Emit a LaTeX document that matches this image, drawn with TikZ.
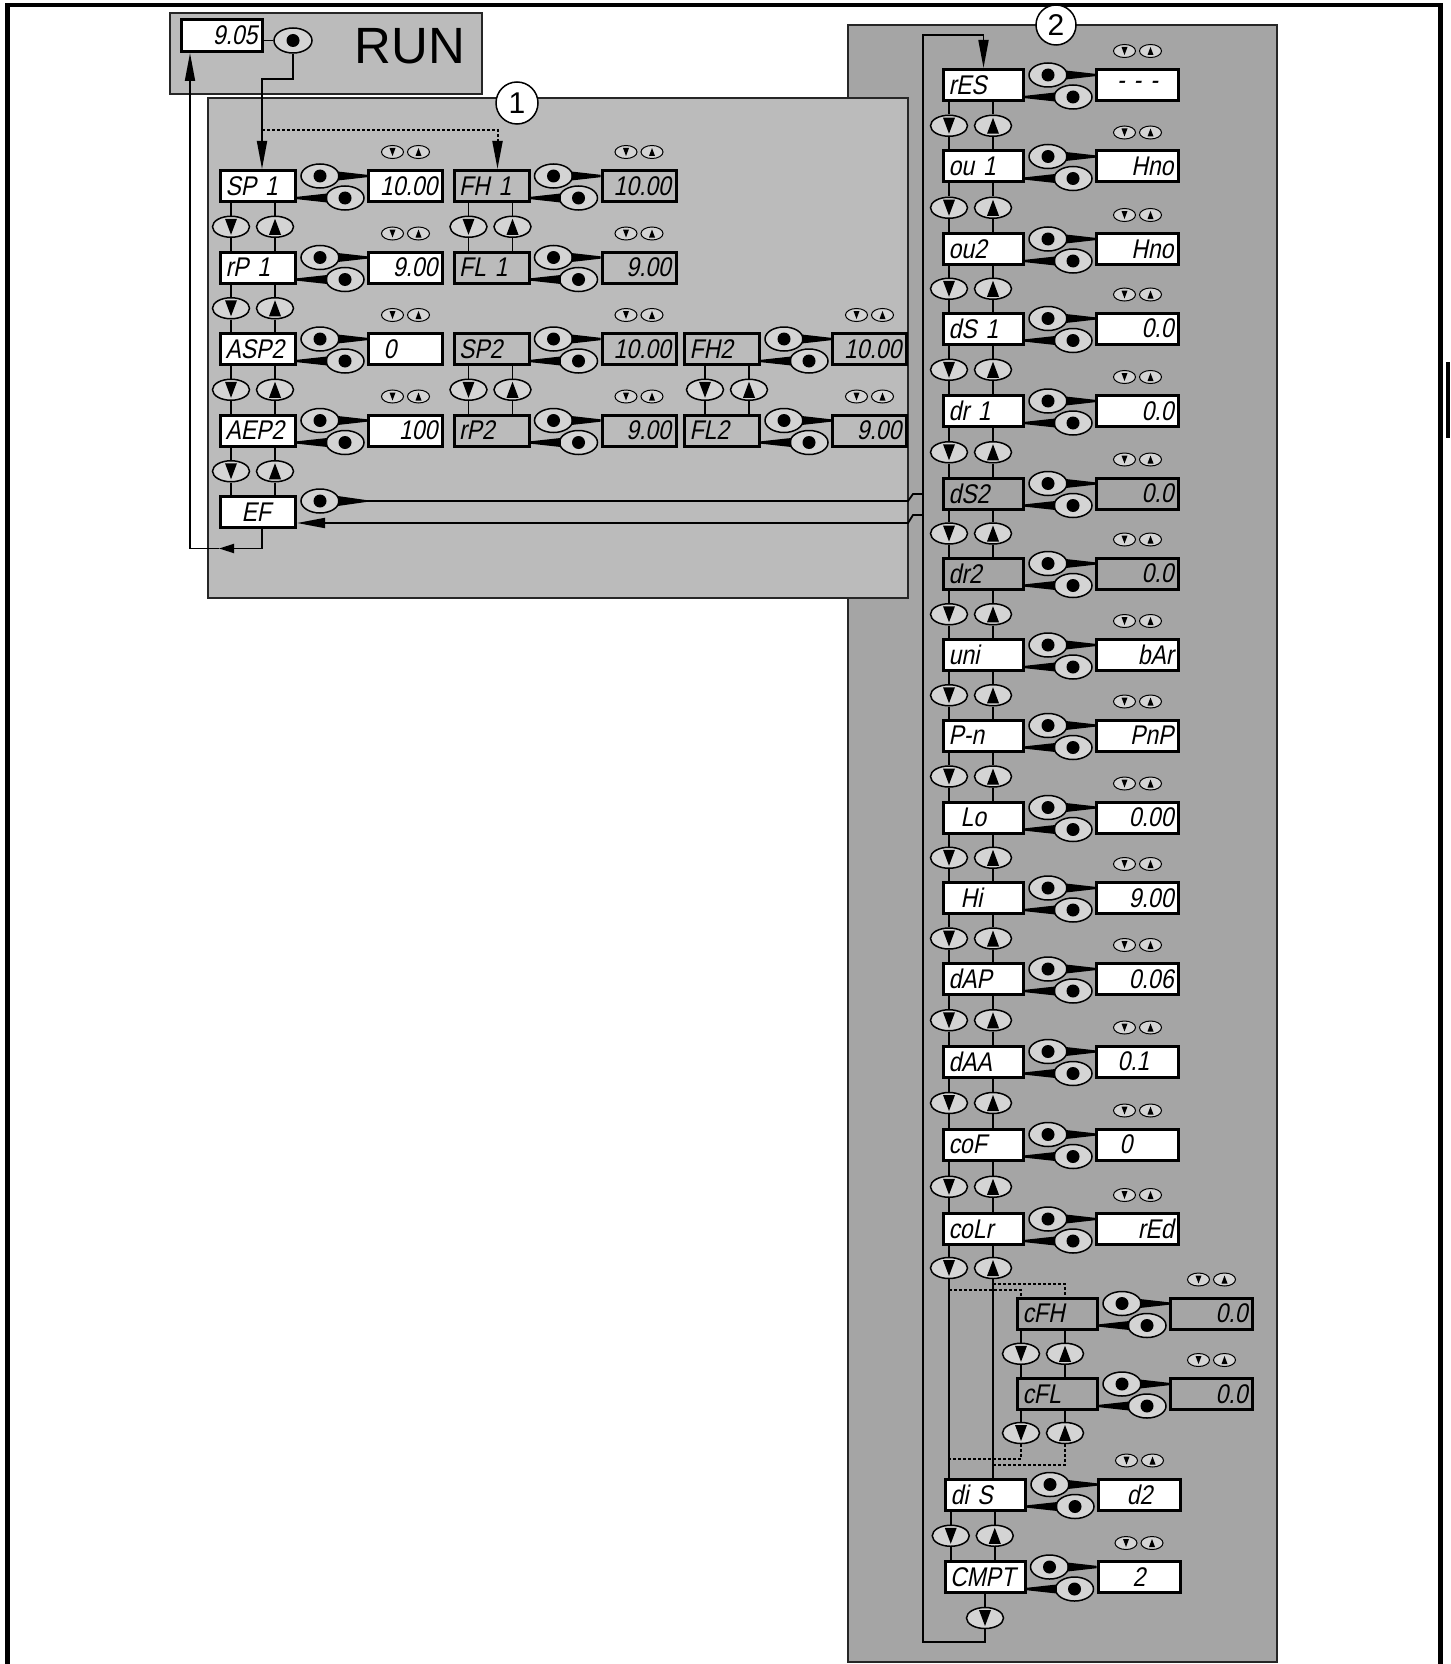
\documentclass[tikz,border=0pt]{standalone}
\usepackage{fontspec}
\setmainfont{Liberation Sans}
\newfontfamily\segfont{Liberation Sans}[FakeSlant=0.2,FakeStretch=0.85]
\usepackage{tikz}
\usetikzlibrary{arrows.meta,positioning,calc,shapes.geometric}
\definecolor{grayone}{HTML}{BBBBBB}
\definecolor{graytwo}{HTML}{A5A5A5}
\definecolor{keyfill}{HTML}{D4D4D4}

% one menu line: name, position, label, value, box style, value alignment
\newcommand\menuline[6]{%
  \node[lbl,#5] (#1) at (#2) {#3};
  \node[val,#5,right=70pt of #1,align=#6] (#1v) {#4};
  \node[okkey] (#1a) at ($(#1.east)+(23,-10)$) {};
  \node[okkey] (#1b) at ($(#1.east)+(48,12)$) {};
  \fill ($(#1a.east)+(-2,-4.5)$) -- ($(#1a.center -| #1v.west)+(0,-1.2)$)
    -- ($(#1a.center -| #1v.west)+(0,1.2)$) -- ($(#1a.east)+(-2,4.5)$) -- cycle;
  \fill ($(#1b.west)+(2,-4.5)$) -- ($(#1b.center -| #1.east)+(0,-1.2)$)
    -- ($(#1b.center -| #1.east)+(0,1.2)$) -- ($(#1b.west)+(2,4.5)$) -- cycle;
  \node[inddn] (#1d) at ($(#1v.center)+(-13,-34)$) {};
  \node[indup] (#1u) at ($(#1v.center)+(13,-34)$) {};
}
% down and up keys between two menu lines
\newcommand\updown[3]{%
  \node[keydn] (#1n) at ($(#1.south west)!0.5!(#2.north west)+(#3,0)$) {};
  \node[keyup] (#1p) at ($(#1n)+(44,0)$) {};
  \draw[wire] (#1.south -| #1n) -- (#1n.north) (#1n.south) -- (#2.north -| #1n)
    (#1.south -| #1p) -- (#1p.north) (#1p.south) -- (#2.north -| #1p);
}

\begin{document}
\begin{tikzpicture}[x=1pt,y=-1pt,
  every node/.style={inner sep=0pt},
  grp/.style={draw=black!85,line width=1.5pt},
  wire/.style={line width=1.8pt},
  arr/.style={wire,-{Triangle[length=28pt,width=10pt]}},
  arrs/.style={wire,-{Triangle[length=15pt,width=9pt]}},
  dots/.style={line width=2pt,dash pattern=on 2.5pt off 2.5pt},
  lbl/.style={draw,line width=3pt,fill=white,minimum height=31pt,text width=65pt,inner xsep=5pt,align=left,font=\segfont\fontsize{27}{27}\selectfont},
  val/.style={lbl,text width=64pt},
  off1/.style={fill=grayone}, off2/.style={fill=graytwo},
  key/.style={ellipse,draw,line width=1.5pt,fill=keyfill,minimum width=37pt,minimum height=21pt},
  okkey/.style={key,minimum width=38pt,minimum height=24pt,path picture={\fill[black] (path picture bounding box.center) circle (6.5pt);}},
  keydn/.style={key,path picture={\fill[black] ($(path picture bounding box.center)+(-6pt,8pt)$) -- ++(12pt,0pt) -- ++(-6pt,-16pt) -- cycle;}},
  keyup/.style={key,path picture={\fill[black] ($(path picture bounding box.center)+(-6pt,-8pt)$) -- ++(12pt,0pt) -- ++(-6pt,16pt) -- cycle;}},
  ind/.style={key,line width=1pt,minimum width=22pt,minimum height=13pt},
  inddn/.style={ind,path picture={\fill[black] ($(path picture bounding box.center)+(-3pt,4pt)$) -- ++(6pt,0pt) -- ++(-3pt,-8pt) -- cycle;}},
  indup/.style={ind,path picture={\fill[black] ($(path picture bounding box.center)+(-3pt,-4pt)$) -- ++(6pt,0pt) -- ++(-3pt,8pt) -- cycle;}}
]
\useasboundingbox (0,0) rectangle (1450,1664);
\draw[line width=4.5pt] (7.5,1664) -- (7.5,5) -- (1440.5,5) -- (1440.5,1664);
\fill (1446,362) rectangle (1450,438);

% frames
\draw[grp,fill=graytwo] (848,25) rectangle (1277,1662);
\draw[grp,fill=grayone] (208,98) rectangle (908,598);
\draw[grp,fill=grayone] (170,13) rectangle (482,94);
\coordinate (g1se) at (908,598);
\node[circle,draw,line width=1.5pt,fill=white,minimum size=42pt,font=\fontsize{30}{30}\selectfont] (no1) at (517,103) {1};
\node[circle,draw,line width=1.5pt,fill=white,minimum size=40pt,font=\fontsize{30}{30}\selectfont] (no2) at (1056,25) {2};

% run mode
\node[val,text width=71pt,minimum height=32pt,align=right] (run9) at (222,35.5) {9.05};
\node[okkey,minimum height=25pt] (runk) at (293,40.5) {};
\node[font=\fontsize{51}{51}\selectfont] (run) at (410,46) {RUN};
\draw[wire] (run9.east |- runk) -- (runk.west);

% menu 1
\menuline{sp1}{258,186}{SP 1}{10.00}{}{right}
\menuline{rp1}{258,267.5}{rP 1}{9.00}{}{right}
\menuline{asp}{258,349}{ASP2}{\hspace*{10pt}0}{}{left}
\menuline{aep}{258,430.5}{AEP2}{100}{}{right}
\node[lbl] (ef) at (258,512) {\hspace*{16pt}EF};
\menuline{fh1}{491.5,186}{FH 1}{10.00}{off1}{right}
\menuline{fl1}{491.5,267.5}{FL 1}{9.00}{off1}{right}
\menuline{sp2}{491.5,349}{SP2}{10.00}{off1}{right}
\menuline{rp2}{491.5,430.5}{rP2}{9.00}{off1}{right}
\menuline{fh2}{722,349}{FH2}{10.00}{off1}{right}
\menuline{fl2}{722,430.5}{FL2}{9.00}{off1}{right}
\updown{sp1}{rp1}{12} \updown{rp1}{asp}{12} \updown{asp}{aep}{12} \updown{aep}{ef}{12}
\updown{fh1}{fl1}{16} \updown{sp2}{rp2}{16} \updown{fh2}{fl2}{22}

\draw[arr] (runk.south) -- ++(0,25.5) -| ([xshift=4pt]sp1.north);
\coordinate (fork) at ($(sp1.north)+(4,-39)$);
\draw[dots,-{Triangle[length=28pt,width=10pt]}] (fork) -| ([xshift=6pt]fh1.north);
\coordinate (retm) at (219,548.5);
\draw[arrs] ([xshift=4pt]ef.south) |- (retm);
\draw[arr] (retm) -| ([xshift=-32pt]run9.south);

% menu 2
\begin{scope}[lbl/.append style={text width=70pt},val/.append style={text width=72pt}]
\menuline{res}{983.5,85}{rES}{- - -}{}{center}
\menuline{ou1}{983.5,166.5}{ou 1}{Hno}{}{right}
\menuline{ou2}{983.5,249}{ou2}{Hno}{}{right}
\menuline{ds1}{983.5,328.5}{dS 1}{0.0}{}{right}
\menuline{dr1}{983.5,411}{dr 1}{0.0}{}{right}
\menuline{ds2}{983.5,493.5}{dS2}{0.0}{off2}{right}
\menuline{dr2}{983.5,573.5}{dr2}{0.0}{off2}{right}
\menuline{uni}{983.5,655}{uni}{bAr}{}{right}
\menuline{pn}{983.5,735.5}{P-n}{PnP}{}{right}
\menuline{lo}{983.5,817.5}{\hspace*{12pt}Lo}{0.00}{}{right}
\menuline{hi}{983.5,898}{\hspace*{12pt}Hi}{9.00}{}{right}
\menuline{dap}{983.5,979}{dAP}{0.06}{}{right}
\menuline{daa}{983.5,1061.5}{dAA}{\hspace*{16pt}0.1}{}{left}
\menuline{cof}{983.5,1144.5}{coF}{\hspace*{18pt}0}{}{left}
\menuline{colr}{983.5,1229}{coLr}{rEd}{}{right}
\menuline{cfh}{1057.5,1313.5}{cFH}{0.0}{off2}{right}
\menuline{cfl}{1057.5,1394}{cFL}{0.0}{off2}{right}
\menuline{dis}{985.5,1494.5}{di S}{d2}{}{center}
\menuline{cmpt}{985,1577}{CMPT}{2}{}{center}
\end{scope}
\updown{res}{ou1}{7} \updown{ou1}{ou2}{7} \updown{ou2}{ds1}{7} \updown{ds1}{dr1}{7}
\updown{dr1}{ds2}{7} \updown{ds2}{dr2}{7} \updown{dr2}{uni}{7} \updown{uni}{pn}{7}
\updown{pn}{lo}{7} \updown{lo}{hi}{7} \updown{hi}{dap}{7} \updown{dap}{daa}{7}
\updown{daa}{cof}{7} \updown{cof}{colr}{7}
\updown{cfh}{cfl}{5} \updown{dis}{cmpt}{7}
\node[keydn] (colrn) at ($(colr.south west)+(7,22)$) {};
\node[keyup] (colrp) at ($(colrn)+(44,0)$) {};
\draw[wire] (colr.south -| colrn) -- (colrn.north) (colrn.south) -- (dis.north -| colrn)
  (colr.south -| colrp) -- (colrp.north) (colrp.south) -- (dis.north -| colrp);
\node[keydn] (cfln) at ($(cfl.south west)+(5,22)$) {};
\node[keyup] (cflp) at ($(cfln)+(44,0)$) {};
\draw[wire] (cfl.south -| cfln) -- (cfln.north) (cfl.south -| cflp) -- (cflp.north);
\coordinate (tapd) at ($(colrn)+(0,22)$);
\coordinate (tapu) at ($(colrp)+(0,16)$);
\coordinate (backd) at ($(cfln)+(0,26)$);
\coordinate (backu) at ($(cflp)+(0,32)$);
\draw[dots] (tapd) -| (cfh.north -| cfhn); \draw[dots] (tapu) -| (cfh.north -| cfhp);
\draw[dots] (cfln.south) |- (backd -| colrn); \draw[dots] (cflp.south) |- (backu -| colrp);
\node[keydn] (cmptn) at ($(cmpt.south)+(0,24)$) {};
\draw[wire] (cmpt.south) -- (cmptn.north);

% loop back and the EF links
\coordinate (loopb) at (923,1642);
\coordinate (loopt) at (923,35);
\draw[arr] (cmptn.south) |- (loopb) -- (loopt) -| (res.north);
\node[okkey] (efa) at ($(ef.east)+(23,-11)$) {};
\fill ($(efa.east)+(-2,-5)$) -- ($(efa.east)+(26,-1)$) -- ($(efa.east)+(26,1)$) -- ($(efa.east)+(-2,5)$) -- cycle;
\draw[wire] (efa.east) -- (efa -| g1se) -- ++(5,-7) -- ++(10,0);
\coordinate (efin) at ($(ef.east)+(0,11)$);
\draw[arr] ($(efin -| loopb)+(0,-8)$) -- ++(-10,0) -- ++(-5,8) -- (efin);
\end{tikzpicture}
\end{document}
